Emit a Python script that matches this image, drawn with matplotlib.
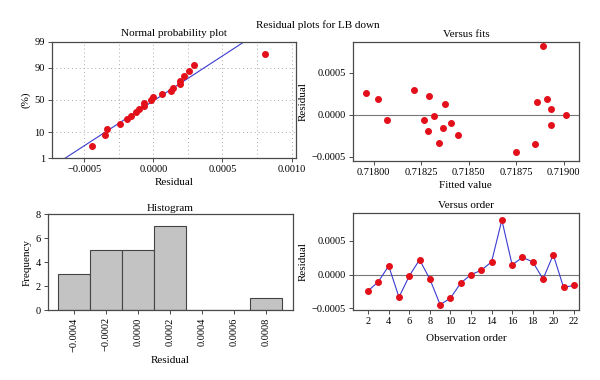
import numpy as np
import matplotlib
matplotlib.use("Agg")
import matplotlib.pyplot as plt
from matplotlib.ticker import FuncFormatter
from statistics import NormalDist

plt.rcParams['font.family'] = ['Liberation Serif', 'DejaVu Serif']

# ---- data ----
observation = list(range(2, 23))
residuals = [-0.00024, -0.000105, 0.00013, -0.000335, -0.00002, 0.00022, -0.000065,
             -0.000445, -0.00035, -0.000125, 0.0, 0.000065, 0.00019, 0.00081,
             0.000145, 0.000255, 0.00019, -0.000065, 0.000295, -0.00019, -0.00016]
fitted = [0.718445, 0.718405, 0.718377, 0.718343, 0.718315, 0.718292, 0.718265,
          0.718748, 0.718849, 0.718934, 0.719011, 0.718934, 0.718022, 0.718889,
          0.718861, 0.717960, 0.718912, 0.718073, 0.718214, 0.718287, 0.718365]
hist_centers = [-0.0004, -0.0002, 0.0, 0.0002, 0.0004, 0.0006, 0.0008]
hist_counts = [3, 5, 5, 7, 0, 0, 1]
prob_ticks = [1, 10, 50, 90, 99]

RED = '#e3101a'
BLUE = '#3b3bd0'
FRAME = '#4a4a4a'
MS = 4.0
nd = NormalDist()

def fmt(dec):
    def f(v, pos):
        s = f"{v:.{dec}f}"
        if float(s) == 0:
            s = f"{0:.{dec}f}"
        return s.replace('-', '\u2212')
    return FuncFormatter(f)

def style(ax):
    for sp in ax.spines.values():
        sp.set_color(FRAME)
        sp.set_linewidth(0.9)
    ax.tick_params(direction='out', length=3, width=0.7, color=FRAME,
                   labelsize=7.5, pad=2)

fig = plt.figure(figsize=(6, 3.8), dpi=100)
fig.text(0.53, 0.934, 'Residual plots for LB down', ha='center', va='center', fontsize=8)

# ---- Normal probability plot ----
ax1 = fig.add_axes([0.0862, 0.5834, 0.4067, 0.3069])
r = np.sort(np.array(residuals))
n = len(r)
pp = (np.arange(1, n + 1) - 0.3) / (n + 0.4)
z = np.array([nd.inv_cdf(p) for p in pp])
mu, sd = np.mean(residuals), np.std(residuals, ddof=1)
zl = np.array([nd.inv_cdf(0.005), nd.inv_cdf(0.995)])
ax1.plot(mu + sd * zl, zl, color=BLUE, lw=0.8)
ax1.plot(r, z, 'o', color=RED, ms=MS, mec=RED)
zt = [nd.inv_cdf(p / 100) for p in prob_ticks]
ax1.set_ylim(zt[0], zt[-1])
ax1.set_yticks(zt)
ax1.set_yticklabels([str(p) for p in prob_ticks])
ax1.set_xlim(-0.000735, 0.00103)
ax1.set_xticks([-0.0005, 0.0, 0.0005, 0.001])
ax1.xaxis.set_major_formatter(fmt(4))
for gx in np.arange(-0.0005, 0.00101, 0.00025):
    ax1.axvline(gx, color='#aaaaaa', lw=0.7, ls=(0, (1, 3)), zorder=0)
for gy in zt[1:-1]:
    ax1.axhline(gy, color='#aaaaaa', lw=0.7, ls=(0, (1, 3)), zorder=0)
ax1.set_title('Normal probability plot', fontsize=8, pad=4)
ax1.set_xlabel('Residual', fontsize=8, labelpad=3)
ax1.set_ylabel('(%)', fontsize=8, labelpad=3)
style(ax1)

# ---- Versus fits ----
ax2 = fig.add_axes([0.5878, 0.5771, 0.3772, 0.3116])
ax2.axhline(0, color='#777777', lw=0.8, zorder=1)
ax2.plot(fitted, residuals, 'o', color=RED, ms=MS, mec=RED, zorder=3)
ax2.set_xlim(0.71789, 0.71908)
ax2.set_xticks([0.718, 0.71825, 0.7185, 0.71875, 0.719])
ax2.xaxis.set_major_formatter(fmt(5))
ax2.set_ylim(-0.000548, 0.00086)
ax2.set_yticks([-0.0005, 0.0, 0.0005])
ax2.yaxis.set_major_formatter(fmt(4))
ax2.set_title('Versus fits', fontsize=8, pad=4)
ax2.set_xlabel('Fitted value', fontsize=8, labelpad=3)
ax2.set_ylabel('Residual', fontsize=8, labelpad=3)
style(ax2)

# ---- Histogram ----
ax3 = fig.add_axes([0.0795, 0.1834, 0.4083, 0.2534])
ax3.bar(hist_centers, hist_counts, width=0.0002, color='#c3c3c3',
        edgecolor='#444444', linewidth=0.8)
ax3.set_xlim(-0.000564, 0.000967)
ax3.set_ylim(0, 8)
ax3.set_xticks(hist_centers)
ax3.xaxis.set_major_formatter(fmt(4))
ax3.set_yticks([0, 2, 4, 6, 8])
ax3.set_title('Histogram', fontsize=8, pad=2)
ax3.set_xlabel('Residual', fontsize=8, labelpad=3)
ax3.set_ylabel('Frequency', fontsize=8, labelpad=3)
style(ax3)
for lab in ax3.get_xticklabels():
    lab.set_rotation(90)

# ---- Versus order ----
ax4 = fig.add_axes([0.5878, 0.1842, 0.3772, 0.2545])
ax4.axhline(0, color='#777777', lw=0.8, zorder=1)
ax4.plot(observation, residuals, '-', color=BLUE, lw=0.8, zorder=2)
ax4.plot(observation, residuals, 'o', color=RED, ms=MS, mec=RED, zorder=3)
ax4.set_xlim(0.5, 22.5)
ax4.set_xticks(list(range(2, 23, 2)))
ax4.set_ylim(-0.000525, 0.00091)
ax4.set_yticks([-0.0005, 0.0, 0.0005])
ax4.yaxis.set_major_formatter(fmt(4))
ax4.set_title('Versus order', fontsize=8, pad=4)
ax4.set_xlabel('Observation order', fontsize=8, labelpad=6)
ax4.set_ylabel('Residual', fontsize=8, labelpad=3)
style(ax4)

fig.savefig('out.png', dpi=100)
